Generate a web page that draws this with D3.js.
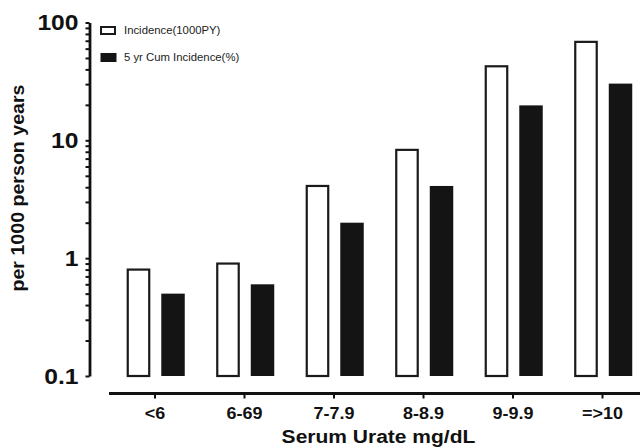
<!DOCTYPE html>
<html>
<head>
<meta charset="utf-8">
<script src="https://d3js.org/d3.v7.min.js"></script>
<style>
  * { margin: 0; padding: 0; }
  body { background: #fff; }
  svg { font-family: "Liberation Sans", Arial, sans-serif; }
</style>
</head>
<body>
<div id="chart"></div>
<script>
// data
var categories = ["<6", "6-69", "7-7.9", "8-8.9", "9-9.9", "=>10"];
var seriesNames = ["Incidence(1000PY)", "5 yr Cum Incidence(%)"];
var incidence = [0.8, 0.9, 4.1, 8.3, 42.5, 68.5];
var cumIncidence = [0.5, 0.6, 2.0, 4.1, 19.8, 30.3];
var majorTicks = [0.1, 1, 10, 100];
var majorLabels = ["0.1", "1", "10", "100"];

var width = 640, height = 448;

var svg = d3.select("#chart").append("svg")
  .attr("width", width)
  .attr("height", height);

// the original type is a bit wider than Arial, stretch it
function stretch(sel, k) {
  sel.each(function () {
    var w = this.getComputedTextLength();
    if (w > 0) {
      d3.select(this)
        .attr("textLength", w * k)
        .attr("lengthAdjust", "spacingAndGlyphs");
    }
  });
}

// scales
var y = d3.scaleLog().domain([0.1, 100]).range([376, 22.5]);
var x0 = d3.scaleBand().domain(categories).range([110.25, 647.25]).padding(0);
var x1 = d3.scaleBand().domain(seriesNames).range([16.5, 74.5]).paddingInner(0.32).paddingOuter(0);

var rows = categories.map(function (c, i) {
  return { cat: c, vals: [
    { s: seriesNames[0], v: incidence[i] },
    { s: seriesNames[1], v: cumIncidence[i] }
  ]};
});

// y axis with minor ticks
var allTicks = [];
[0.1, 1, 10].forEach(function (d) {
  for (var k = 1; k < 10; k++) allTicks.push(+(d * k).toPrecision(3));
});
allTicks.push(100);

var yAxis = d3.axisLeft(y)
  .tickValues(allTicks)
  .tickSize(4)
  .tickSizeOuter(0)
  .tickPadding(7)
  .tickFormat(function (d) {
    var idx = majorTicks.indexOf(d);
    return idx >= 0 ? majorLabels[idx] : "";
  });

var gy = svg.append("g")
  .attr("transform", "translate(89.5,0)")
  .call(yAxis);
gy.select(".domain").attr("stroke", "#111").attr("stroke-width", 2.8);
gy.selectAll(".tick line").attr("stroke", "#111").attr("stroke-width", 2);
gy.selectAll(".tick text")
  .attr("fill", "#111")
  .style("font-size", "22px")
  .style("font-weight", "bold")
  .call(stretch, 1.12);

// x axis
var xAxis = d3.axisBottom(x0)
  .tickSize(5)
  .tickSizeOuter(0)
  .tickPadding(9.5);

var gx = svg.append("g")
  .attr("transform", "translate(0,393.5)")
  .call(xAxis);
gx.select(".domain").attr("stroke", "#111").attr("stroke-width", 2.8)
  .attr("d", "M109,0H640");
gx.selectAll(".tick line").attr("stroke", "#111").attr("stroke-width", 2);
gx.selectAll(".tick text")
  .attr("fill", "#111")
  .style("font-size", "16px")
  .style("font-weight", "bold")
  .call(stretch, 1.12);

// bars
var groups = svg.selectAll(".grp")
  .data(rows)
  .enter().append("g")
  .attr("class", "grp")
  .attr("transform", function (d) { return "translate(" + x0(d.cat) + ",0)"; });

groups.selectAll("rect")
  .data(function (d) { return d.vals; })
  .enter().append("rect")
  .attr("x", function (d, i) { return x1(d.s) + (i === 0 ? 1 : 0); })
  .attr("width", function (d, i) { return x1.bandwidth() - (i === 0 ? 2 : 0); })
  .attr("y", function (d) { return y(d.v); })
  .attr("height", function (d) { return y(0.1) - y(d.v); })
  .attr("fill", function (d, i) { return i === 0 ? "#fff" : "#141414"; })
  .attr("stroke", function (d, i) { return i === 0 ? "#1a1a1a" : "none"; })
  .attr("stroke-width", 2.2);

// legend
var legend = svg.append("g").attr("transform", "translate(101,27)");
seriesNames.forEach(function (s, i) {
  var g = legend.append("g").attr("transform", "translate(0," + (i * 27) + ")");
  g.append("rect")
    .attr("x", i === 0 ? 0 : -0.5)
    .attr("y", i === 0 ? 0 : -1)
    .attr("width", i === 0 ? 14 : 16)
    .attr("height", i === 0 ? 7 : 9)
    .attr("fill", i === 0 ? "#fff" : "#141414")
    .attr("stroke", i === 0 ? "#1a1a1a" : "none")
    .attr("stroke-width", 2);
  g.append("text")
    .attr("x", 23)
    .attr("y", 7)
    .attr("fill", "#222")
    .style("font-size", "11px")
    .text(s)
    .call(stretch, 1.03);
});

// axis titles
svg.append("text")
  .attr("x", 378.5)
  .attr("y", 443)
  .attr("text-anchor", "middle")
  .attr("fill", "#111")
  .style("font-size", "17.5px")
  .style("font-weight", "bold")
  .text("Serum Urate mg/dL")
  .call(stretch, 1.2);

svg.append("text")
  .attr("transform", "translate(24,188) rotate(-90)")
  .attr("text-anchor", "middle")
  .attr("fill", "#111")
  .style("font-size", "17.5px")
  .style("font-weight", "bold")
  .text("per 1000 person years")
  .call(stretch, 1.12);
</script>
</body>
</html>
